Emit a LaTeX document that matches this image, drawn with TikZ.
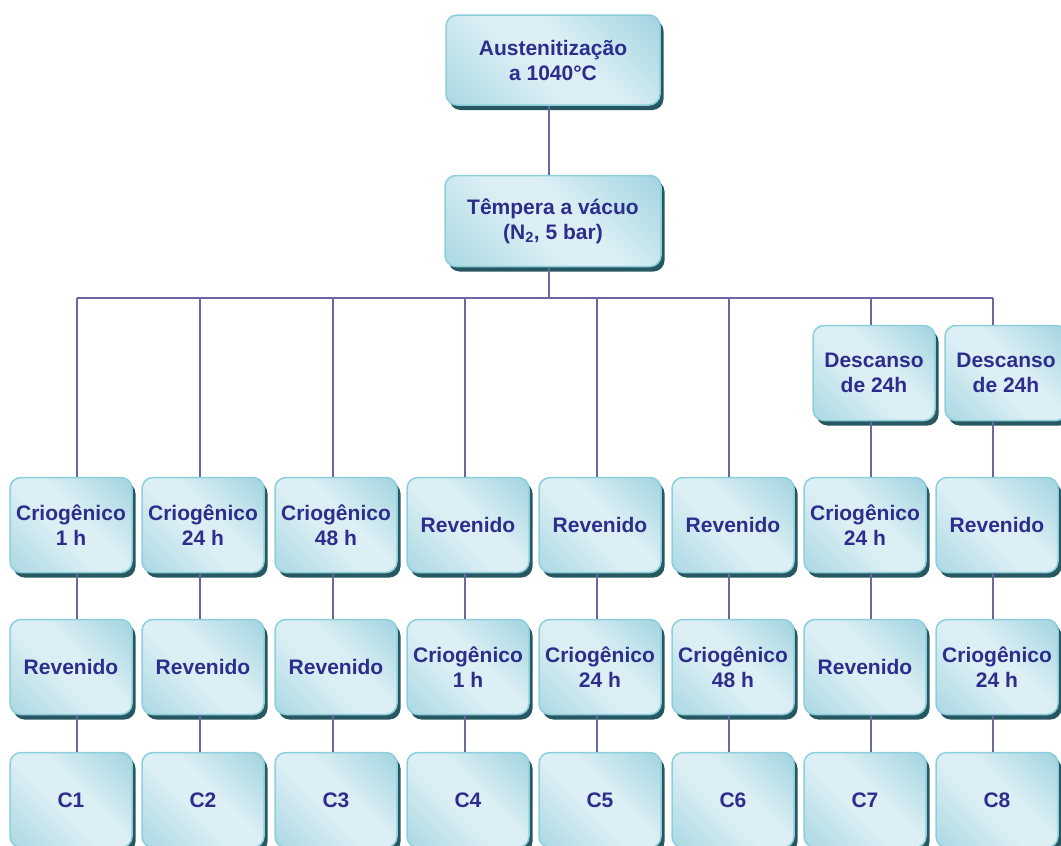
\documentclass[tikz,border=0pt]{standalone}
\usepackage{fontspec}
\setmainfont{Liberation Sans}
\usetikzlibrary{shadows}
\definecolor{boxlight}{HTML}{DCEFF4}
\definecolor{boxdark}{HTML}{84C6D6}
\definecolor{boxedge}{HTML}{8BCFDD}
\definecolor{boxshadow}{HTML}{275761}
\definecolor{txtblue}{HTML}{2D2D8C}
\definecolor{linkcol}{HTML}{6A68A2}
\pgfdeclarehorizontalshading{boxshade}{100bp}{color(0bp)=(boxdark!85!boxlight); color(44bp)=(boxlight); color(56bp)=(boxlight); color(100bp)=(boxdark)}

\begin{document}
\begin{tikzpicture}[x=1pt, y=-1pt,
  box/.style={draw=boxedge, line width=1.5pt, rounded corners=11pt,
    shading=boxshade, shading angle=45,
    drop shadow={shadow xshift=3.5pt, shadow yshift=-5pt, fill=boxshadow, opacity=1},
    minimum width=122pt, minimum height=95pt, inner sep=2pt, align=center,
    text=txtblue, font=\fontsize{21}{25}\selectfont\bfseries},
  link/.style={draw=linkcol, line width=2.8pt}]
\useasboundingbox (0,0) rectangle (1061,846);

\node[box, minimum width=214pt, minimum height=90pt] (aust) at (553,60) {Austenitização\\a 1040°C};
\node[box, minimum width=216pt, minimum height=91pt] (temp) at (553,221) {Têmpera a vácuo\\(N\textsubscript{2}, 5 bar)};
\coordinate (trunk) at (549,298);
\draw[link] (aust.south -| trunk) -- (temp.north -| trunk);
\draw[link] (temp.south -| trunk) -- (trunk);

\node[box] (desc7) at (874,373) {Descanso\\de 24h};
\node[box] (desc8) at (1006,373) {Descanso\\de 24h};

\foreach \i/\bx/\lx/\ta/\tb/\tc in {
  1/71/77/{Criogênico\\1 h}/Revenido/C1,
  2/203/200/{Criogênico\\24 h}/Revenido/C2,
  3/336/333/{Criogênico\\48 h}/Revenido/C3,
  4/468/465/Revenido/{Criogênico\\1 h}/C4,
  5/600/597/Revenido/{Criogênico\\24 h}/C5,
  6/733/729/Revenido/{Criogênico\\48 h}/C6,
  7/865/871/{Criogênico\\24 h}/Revenido/C7,
  8/997/993/Revenido/{Criogênico\\24 h}/C8}{
  \coordinate (bar\i) at (\lx,298);
  \node[box] (ra\i) at (\bx,525) {\ta};
  \node[box] (rb\i) at (\bx,667) {\tb};
  \node[box] (rc\i) at (\bx,800) {\tc};
  \draw[link] (ra\i.south -| bar\i) -- (rb\i.north -| bar\i);
  \draw[link] (rb\i.south -| bar\i) -- (rc\i.north -| bar\i);
}
\draw[link] (bar1) -- (bar8);
\foreach \i in {1,...,6}
  \draw[link] (bar\i) -- (ra\i.north -| bar\i);
\foreach \i in {7,8}{
  \draw[link] (bar\i) -- (desc\i.north -| bar\i);
  \draw[link] (desc\i.south -| bar\i) -- (ra\i.north -| bar\i);
}
\end{tikzpicture}
\end{document}
